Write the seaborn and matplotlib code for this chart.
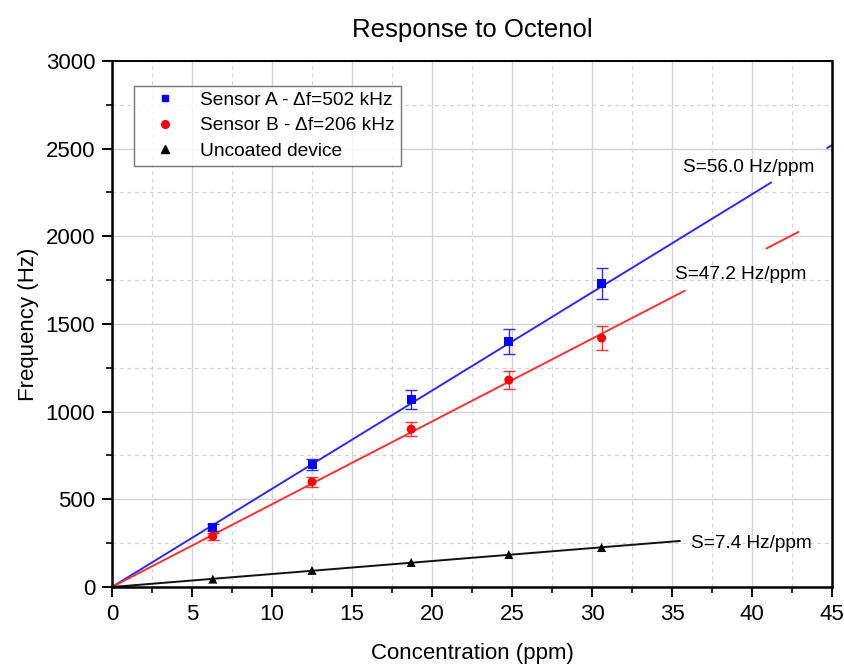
import matplotlib
matplotlib.use("Agg")
import matplotlib.pyplot as plt
import seaborn as sns
import numpy as np
import pandas as pd
from matplotlib.ticker import MultipleLocator
from matplotlib.lines import Line2D

sns.set_theme(style="white")
plt.rcParams['font.family'] = ['Liberation Sans', 'DejaVu Sans']
plt.rcParams['text.color'] = 'black'
plt.rcParams['axes.labelcolor'] = 'black'

# ---- data ----
conc = [6.3, 12.5, 18.7, 24.8, 30.6]
sensor_a = [340, 700, 1070, 1400, 1730]
sensor_a_err = [20, 30, 55, 70, 90]
sensor_b = [290, 600, 900, 1180, 1420]
sensor_b_err = [20, 30, 40, 50, 70]
uncoated = [45, 95, 140, 185, 225]
uncoated_err = [10, 10, 10, 10, 10]

series_names = ["Sensor A - \u0394f=502 kHz", "Sensor B - \u0394f=206 kHz", "Uncoated device"]
slopes = [56.0, 47.2, 7.4]
slope_labels = ["S=56.0 Hz/ppm", "S=47.2 Hz/ppm", "S=7.4 Hz/ppm"]
# fit line x-ranges (segments, gaps where labels sit)
fit_segments = [[(0, 41.2), (44.7, 45)], [(0, 35.8), (40.9, 42.9)], [(0, 35.5)]]
label_pos = [(35.7, 2395), (35.2, 1780), (36.2, 250)]

colors = ["#0000ff", "#ff0000", "#000000"]
line_colors = ["#2a2aff", "#ff3030", "#111111"]
markers = ["s", "o", "^"]

df = pd.DataFrame({
    "conc": conc * 3,
    "freq": sensor_a + sensor_b + uncoated,
    "err": sensor_a_err + sensor_b_err + uncoated_err,
    "series": sum([[n] * len(conc) for n in series_names], []),
})

fig = plt.figure(figsize=(8.44, 6.65), dpi=100)
ax = fig.add_axes([0.1327, 0.1173, 0.8531, 0.7910])

# fit lines
for i, name in enumerate(series_names):
    for (x0, x1) in fit_segments[i]:
        xs = np.array([x0, x1])
        sns.lineplot(x=xs, y=slopes[i] * xs, ax=ax, color=line_colors[i], lw=1.4, zorder=2)

# error bars
for i, name in enumerate(series_names):
    sub = df[df.series == name]
    if i < 2:
        ax.errorbar(sub.conc, sub.freq, yerr=sub.err, fmt="none", ecolor=line_colors[i],
                    elinewidth=1.0, capsize=4, capthick=1.0, zorder=3)

# points
sns.scatterplot(data=df, x="conc", y="freq", hue="series", style="series",
                palette=dict(zip(series_names, colors)),
                markers=dict(zip(series_names, markers)),
                s=42, edgecolor="none", ax=ax, zorder=4, legend=False)

# legend handles
handles = [Line2D([], [], ls="none", marker=markers[i], color=colors[i], markersize=5 if i == 0 else 5.5)
           for i in range(3)]
leg = ax.legend(handles, series_names, loc="upper left", bbox_to_anchor=(0.031, 0.953),
                frameon=True, fancybox=False, edgecolor="#555555", fontsize=13.8,
                handletextpad=0.55, borderpad=0.3, labelspacing=0.42, handlelength=2.6,
                borderaxespad=0)
leg.get_frame().set_linewidth(1.0)

for i in range(3):
    ax.text(label_pos[i][0], label_pos[i][1], slope_labels[i], fontsize=13.7,
            ha="left", va="center", color="black", zorder=5)

ax.set_xlim(0, 45)
ax.set_ylim(0, 3000)
ax.xaxis.set_major_locator(MultipleLocator(5))
ax.xaxis.set_minor_locator(MultipleLocator(2.5))
ax.yaxis.set_major_locator(MultipleLocator(500))
ax.yaxis.set_minor_locator(MultipleLocator(250))
ax.grid(which="major", color="#d4d4d4", lw=1.0, ls="-")
ax.grid(which="minor", color="#d4d4d4", lw=0.9, ls=(0, (3, 3)))
ax.set_axisbelow(True)

for s in ax.spines.values():
    s.set_visible(True)
    s.set_color("black")
ax.spines["left"].set_linewidth(1.8)
ax.spines["bottom"].set_linewidth(1.8)
ax.spines["top"].set_linewidth(1.4)
ax.spines["right"].set_linewidth(1.8)

ax.tick_params(axis="both", which="major", direction="out", length=7, width=1.4,
               color="black", labelsize=16, labelcolor="black", pad=5,
               bottom=True, left=True, top=False, right=False)
ax.tick_params(axis="both", which="minor", direction="out", length=4, width=1.2,
               color="black", bottom=True, left=True, top=False, right=False)

ax.set_xlabel("Concentration (ppm)", fontsize=16, labelpad=13, color="black")
ax.set_ylabel("Frequency (Hz)", fontsize=16, labelpad=5, color="black")
ax.set_title("Response to Octenol", fontsize=18.5, pad=17, color="black")

fig.savefig("out.png", dpi=100)
